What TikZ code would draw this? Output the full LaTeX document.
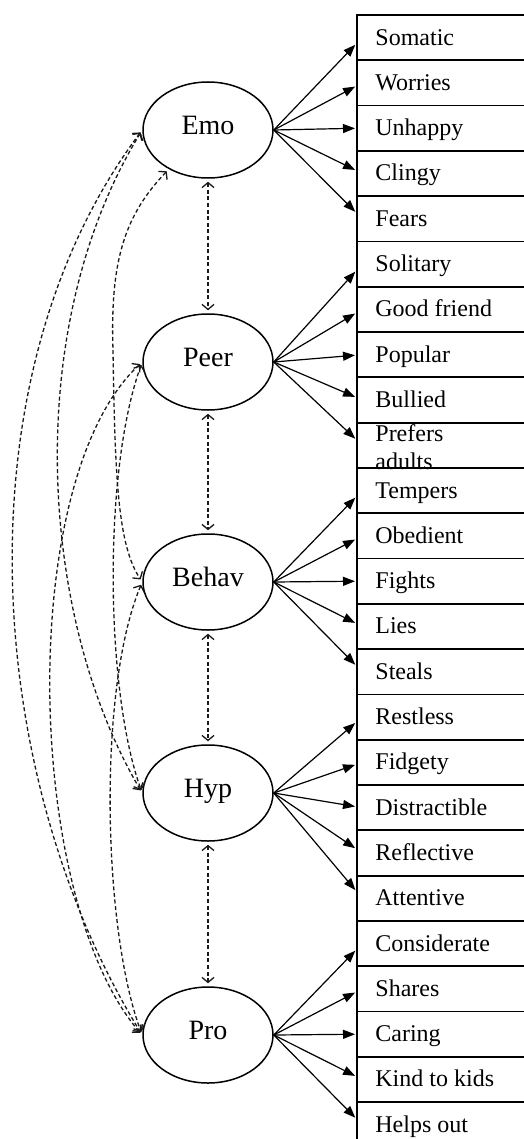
\documentclass[tikz,border=0pt]{standalone}
\usepackage{fontspec}
\setmainfont{Liberation Serif}
\usetikzlibrary{shapes.geometric,arrows.meta,calc}

\begin{document}
\begin{tikzpicture}[x=0.5pt,y=-0.5pt,
    factor/.style={draw,ellipse,line width=0.75pt,minimum width=65pt,minimum height=48pt,inner sep=0pt,text height=10pt,text depth=5.5pt,font=\fontsize{14}{16}\selectfont},
    item/.style={draw,line width=0.9pt,anchor=north west,minimum width=100pt,minimum height=22.65pt,inner sep=0pt},
    itemtext/.style={anchor=west,inner sep=0pt,text height=8.5pt,text depth=1pt,font=\fontsize{12}{14}\selectfont},
    load/.style={line width=0.6pt,-{Triangle[length=6pt,width=4.5pt]},shorten >=0.5pt},
    corr/.style={line width=0.65pt,black!90,dash pattern=on 2pt off 1.3pt,{Straight Barb[length=2.5pt,width=6pt]}-{Straight Barb[length=2.5pt,width=6pt]},shorten <=1.5pt,shorten >=1.5pt}]
    \useasboundingbox (0,0) rectangle (524,1139);
    \clip (0,0) rectangle (524,1139);
    % factors
    \node[factor] (emo) at (208,130) {Emo};
    \node[factor] (peer) at (208,362) {Peer};
    \node[factor] (behav) at (208,582) {Behav};
    \node[factor] (hyp) at (208,793) {Hyp};
    \node[factor] (pro) at (208,1035) {Pro};
    % items
    \foreach \lbl [count=\n from 0] in {Somatic,Worries,Unhappy,Clingy,Fears,
        Solitary,Good friend,Popular,Bullied,{\parbox[c]{60pt}{Prefers\\adults}},
        Tempers,Obedient,Fights,Lies,Steals,
        Restless,Fidgety,Distractible,Reflective,Attentive,
        Considerate,Shares,Caring,Kind to kids,Helps out} {
        \node[item] (i\n) at (356,{14+45.3*\n}) {};
        \node[itemtext] (t\n) at ([xshift=9.5pt]i\n.west) {\lbl};
    }
    % loadings
    \foreach \f [count=\k from 0] in {emo,peer,behav,hyp,pro} {
        \foreach \j in {0,...,4} {
            \pgfmathtruncatemacro\n{5*\k+\j}
            \draw[load] (\f.east) -- ($(i\n.west)!0.07!(i\n.west |- \f)$);
        }
    }
    % correlations
    \draw[corr] (emo) -- (peer);
    \draw[corr] (peer) -- (behav);
    \draw[corr] (behav) -- (hyp);
    \draw[corr] (hyp) -- (pro);
    \draw[corr] (emo.225) .. controls (125,215) and (110,260) .. (113,350) .. controls (115,480) and (118,545) .. (behav.west);
    \draw[corr] (emo.west) .. controls (20,330) and (40,620) .. (hyp.west);
    \draw[corr] (emo.west) .. controls (-45,380) and (-15,780) .. (pro.west);
    \draw[corr] (peer.west) .. controls (103,470) and (105,690) .. (hyp.west);
    \draw[corr] (peer.west) .. controls (15,480) and (25,900) .. (pro.west);
    \draw[corr] (behav.west) .. controls (97,690) and (103,930) .. (pro.west);
\end{tikzpicture}
\end{document}
